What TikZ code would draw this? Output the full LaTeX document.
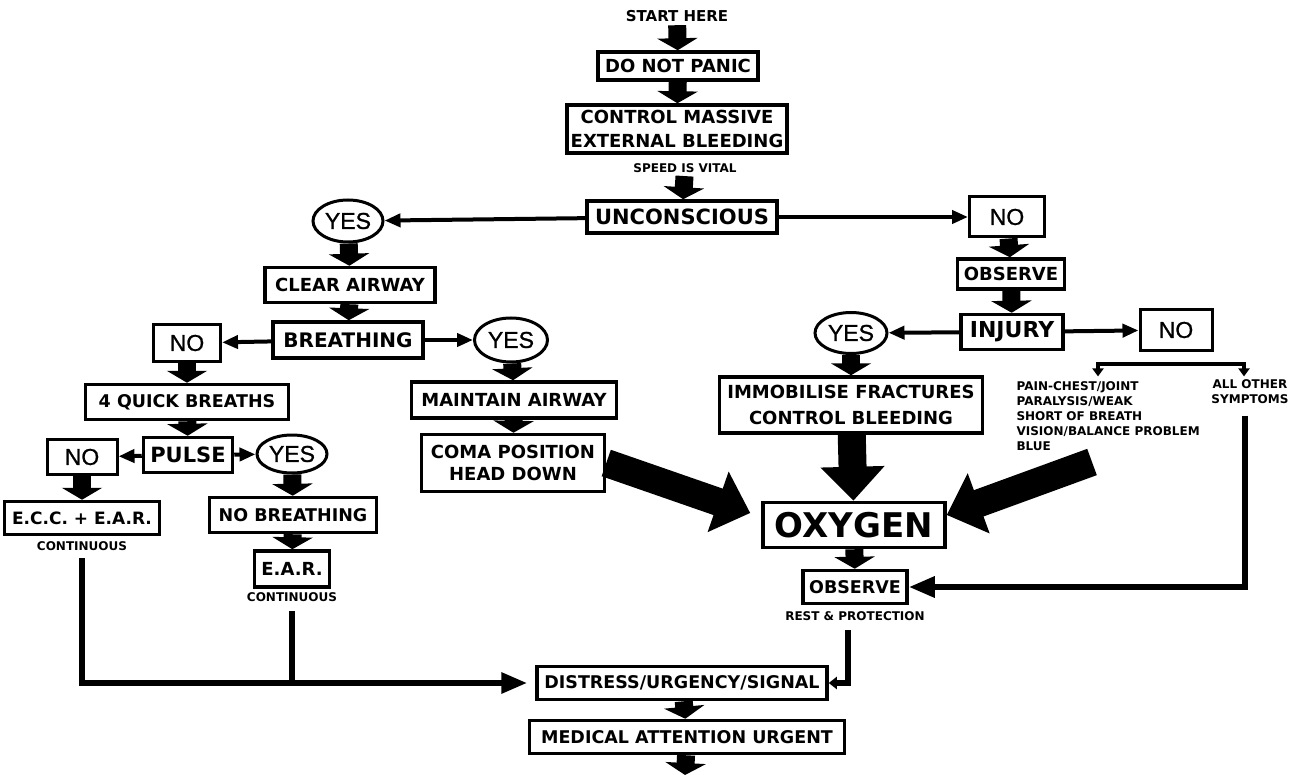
\documentclass[tikz,border=0pt]{standalone}
\usepackage{fontspec}
\setmainfont{DejaVu Sans}
\newfontfamily\answerfont[FakeBold=1]{Liberation Sans}
\usetikzlibrary{arrows.meta,shapes.geometric}

\begin{document}
\begin{tikzpicture}[x=1pt, y=-1pt,
    box/.style={draw, line width=3.5pt, inner sep=0pt, align=center, font=\bfseries\fontsize{18}{22}\selectfont},
    answer/.style={draw, line width=3pt, inner sep=0pt, font=\answerfont\fontsize{23}{23}\selectfont},
    oval/.style={answer, ellipse},
    note/.style={font=\bfseries\fontsize{12}{15}\selectfont, align=left},
    link/.style={line width=4pt, -{Triangle[length=16pt,width=13pt]}},
    heavylink/.style={line width=6pt, -{Triangle[length=26pt,width=20pt]}},
    fat/.style={line width=18pt, -{Triangle[length=12pt,width=40pt]}},
    wedge/.style={line width=28pt, -{Triangle[length=34pt,width=62pt]}}]
\useasboundingbox (0,0) rectangle (1303,775);

% top of the chart
\node[font=\bfseries\fontsize{15}{15}\selectfont] (start) at (677,16) {START HERE};
\node[box, minimum width=160pt, minimum height=28pt] (panic) at (678,66) {DO NOT PANIC};
\node[box, minimum width=220pt, minimum height=48pt, font=\bfseries\fontsize{18}{24}\selectfont] (bleed) at (677,129) {CONTROL MASSIVE\\EXTERNAL BLEEDING};
\node[note] (speed) at (685,168) {SPEED IS VITAL};
\node[box, minimum width=190pt, minimum height=32pt, font=\bfseries\fontsize{21}{21}\selectfont] (uncon) at (682,217) {UNCONSCIOUS};

% unconscious: yes
\node[oval, minimum width=70pt, minimum height=42pt] (yes1) at (348,221) {YES};
\node[box, minimum width=170pt, minimum height=35pt] (clear) at (350,285) {CLEAR AIRWAY};
\node[box, minimum width=150pt, minimum height=36pt, font=\bfseries\fontsize{20}{20}\selectfont] (breath) at (348,340) {BREATHING};
\node[answer, minimum width=67pt, minimum height=37pt] (no2) at (187,343) {NO};
\node[box, minimum width=203pt, minimum height=35pt, font=\bfseries\fontsize{17.5}{20}\selectfont] (quick) at (187,402) {4 QUICK BREATHS};
\node[box, minimum width=89pt, minimum height=35pt, font=\bfseries\fontsize{21}{21}\selectfont] (pulse) at (188,455) {PULSE};
\node[answer, minimum width=70pt, minimum height=35pt] (no3) at (82,457) {NO};
\node[oval, minimum width=70pt, minimum height=38pt] (yes3) at (292,454) {YES};
\node[box, minimum width=155pt, minimum height=33pt, font=\bfseries\fontsize{17}{20}\selectfont] (ecc) at (82,518) {E.C.C. + E.A.R.};
\node[note] (cont1) at (82,546) {CONTINUOUS};
\node[box, minimum width=167pt, minimum height=35pt, font=\bfseries\fontsize{17.5}{20}\selectfont] (nobreath) at (293,515) {NO BREATHING};
\node[box, minimum width=75pt, minimum height=36pt] (ear) at (292,569) {E.A.R.};
\node[note] (cont2) at (292,597) {CONTINUOUS};
\node[oval, minimum width=73pt, minimum height=44pt] (yes2) at (511,340) {YES};
\node[box, minimum width=205pt, minimum height=36pt] (maintain) at (514,400) {MAINTAIN AIRWAY};
\node[box, minimum width=183pt, minimum height=57pt] (coma) at (513,463) {COMA POSITION\\HEAD DOWN};

% unconscious: no
\node[answer, minimum width=75pt, minimum height=40pt] (no1) at (1007,217) {NO};
\node[box, minimum width=107pt, minimum height=30pt] (observe1) at (1011,274) {OBSERVE};
\node[box, minimum width=102pt, minimum height=35pt, font=\bfseries\fontsize{22}{22}\selectfont] (injury) at (1012,332) {INJURY};
\node[oval, minimum width=72pt, minimum height=41pt] (yes4) at (851,333) {YES};
\node[answer, minimum width=72pt, minimum height=40pt] (no4) at (1176,330) {NO};
\node[box, minimum width=263pt, minimum height=56pt, font=\bfseries\fontsize{18}{26}\selectfont] (immob) at (851,405) {IMMOBILISE FRACTURES\\CONTROL BLEEDING};
\node[note, anchor=north west] (symp) at (1013,378) {PAIN-CHEST/JOINT\\PARALYSIS/WEAK\\SHORT OF BREATH\\VISION/BALANCE PROBLEM\\BLUE};
\node[note, align=center] (other) at (1250,392) {ALL OTHER\\SYMPTOMS};
\node[box, minimum width=182pt, minimum height=45pt, font=\bfseries\fontsize{34}{34}\selectfont] (oxygen) at (854,525) {OXYGEN};
\node[box, minimum width=104pt, minimum height=33pt, font=\bfseries\fontsize{17.5}{20}\selectfont] (observe2) at (855,587) {OBSERVE};
\node[note] (rest) at (855,616) {REST \& PROTECTION};

% bottom
\node[box, minimum width=290pt, minimum height=33pt, font=\bfseries\fontsize{17.5}{20}\selectfont] (distress) at (682,683) {DISTRESS/URGENCY/SIGNAL};
\node[box, minimum width=315pt, minimum height=33pt, font=\bfseries\fontsize{17.5}{20}\selectfont] (medical) at (687,737) {MEDICAL ATTENTION URGENT};
\coordinate (finish) at (685,775);
\coordinate (sympout) at (1092,462);

% fat arrows
\draw[fat] (start) -- (panic);
\draw[fat] (panic) -- (bleed);
\draw[fat] (speed) -- (uncon);
\draw[fat] (yes1) -- (clear);
\draw[fat] (clear) -- (breath);
\draw[fat] (no2) -- (quick);
\draw[fat] (quick) -- (pulse);
\draw[fat] (no3) -- (ecc);
\draw[fat] (yes3) -- (nobreath);
\draw[fat] (nobreath) -- (ear);
\draw[fat] (yes2) -- (maintain);
\draw[fat] (maintain) -- (coma);
\draw[fat] (no1) -- (observe1);
\draw[fat] (observe1) -- (injury);
\draw[fat] (yes4) -- (immob);
\draw[fat] (oxygen) -- (observe2);
\draw[fat] (distress) -- (medical);
\draw[fat] (medical) -- (finish);

% into oxygen
\draw[wedge] (immob) -- (oxygen);
\draw[wedge] (coma.east) -- ([shift={(-11,-12)}]oxygen.west);
\draw[wedge] (sympout) -- ([shift={(0,-10)}]oxygen.east);

% thin links
\draw[link] (uncon) -- (yes1);
\draw[link] (uncon) -- (no1);
\draw[link] (breath) -- (no2);
\draw[link] (breath) -- (yes2);
\draw[link] (pulse) -- (no3);
\draw[link] (pulse) -- (yes3);
\draw[link] (injury) -- (yes4);
\draw[link] (injury) -- (no4);
\draw[line width=4pt, {Triangle[length=8pt,width=11pt]}-{Triangle[length=8pt,width=11pt]}]
  ([xshift=-152pt]other.north) |- ([shift={(-6pt,12pt)}]other.north) -- ([xshift=-6pt]other.north);

% heavy links
\draw[heavylink] ([shift={(-5pt,-8pt)}]other.south) |- (observe2.east);
\draw[heavylink, -{Triangle[length=8pt,width=12pt]}] ([shift={(-7pt,-6pt)}]rest.south) |- (distress.east);
\draw[heavylink, shorten >=8pt] ([yshift=-4pt]cont1.south) |- (distress.west);
\draw[line width=6pt] ([yshift=-6pt]cont2.south) -- (cont2.south |- distress.west);
\end{tikzpicture}
\end{document}
